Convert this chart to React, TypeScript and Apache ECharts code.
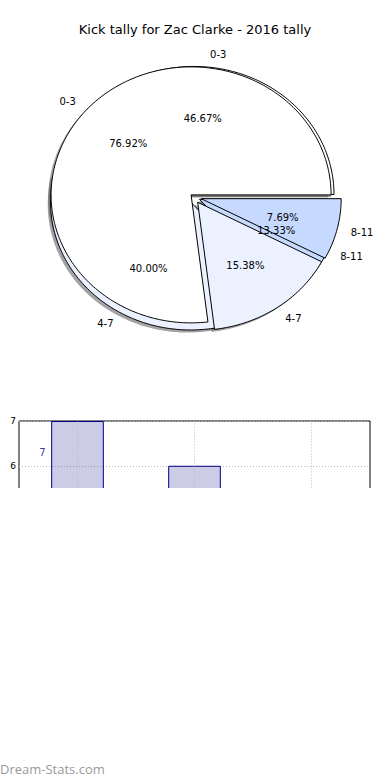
import React, { useEffect, useRef } from "react";
import * as echarts from "echarts";

// ---------- data ----------
const categories = ["0-3", "4-7", "8-11"];
const kicks2016 = [7, 6, 2]; // first pie (46.67 / 40.00 / 13.33 %) and bars
const kicksOther = [10, 2, 1]; // second pie (76.92 / 15.38 / 7.69 %)
const titleText = "Kick tally for Zac Clarke - 2016 tally";
const watermark = "Dream-Stats.com";

// ---------- style / layout ----------
const pieValues = [kicks2016, kicksOther];
const pieExplode = [
  [0.02, 0.045, 0.045],
  [0.025, 0.05, 0.055],
];
const sliceColors = ["#ffffff", "#ebf1ff", "#c6d9ff"];
const FONT = "DejaVu Sans";
const barLabelFrac = 0.9;

function shade(hex: string) {
  const r = parseInt(hex.slice(1, 3), 16);
  const g = parseInt(hex.slice(3, 5), 16);
  const b = parseInt(hex.slice(5, 7), 16);
  return `rgba(${Math.round(r * 0.3)},${Math.round(g * 0.3)},${Math.round(b * 0.3)},0.5)`;
}

function sliceGeom(p: number, s: number) {
  const vals = pieValues[p];
  const total = vals.reduce((a, b) => a + b, 0);
  let start = 0;
  for (let i = 0; i < s; i++) start += vals[i];
  const a0 = (start / total) * 2 * Math.PI;
  const a1 = ((start + vals[s]) / total) * 2 * Math.PI;
  const mid = (a0 + a1) / 2;
  const e = pieExplode[p][s];
  const cx = e * Math.cos(mid);
  const cy = e * Math.sin(mid);
  return { a0, a1, mid, cx, cy, pct: (vals[s] / total) * 100 };
}

function wedgePoints(api: any, p: number, s: number, dx: number, dy: number) {
  const g = sliceGeom(p, s);
  const cx = g.cx + dx;
  const cy = g.cy + dy;
  const pts: number[][] = [api.coord([cx, cy])];
  const n = Math.max(8, Math.ceil((g.a1 - g.a0) / (Math.PI / 180)));
  for (let k = 0; k <= n; k++) {
    const t = g.a0 + ((g.a1 - g.a0) * k) / n;
    pts.push(api.coord([cx + Math.cos(t), cy + Math.sin(t)]));
  }
  return pts;
}

const allSlices: number[][] = [];
pieValues.forEach((vals, p) => vals.forEach((_, s) => allSlices.push([p, s])));

function PieChart() {
  const ref = useRef<HTMLDivElement>(null);
  useEffect(() => {
    const chart = echarts.init(ref.current!, null, { renderer: "svg" });
    chart.setOption({
      animation: false,
      backgroundColor: "#ffffff",
      title: {
        text: titleText,
        left: "center",
        top: 18,
        textStyle: { fontFamily: FONT, fontSize: 13, fontWeight: "normal", color: "#000" },
      },
      grid: { left: 11.7, top: 30.6, width: 364, height: 332.8 },
      xAxis: { type: "value", min: -1.3, max: 1.3, show: false },
      yAxis: { type: "value", min: -1.3, max: 1.3, show: false },
      graphic: [
        {
          type: "text",
          left: 0,
          top: 762,
          style: { text: watermark, fill: "#9a9a9a", font: '13px "Open Sans"' },
        },
      ],
      series: [
        {
          type: "custom",
          z: 1,
          silent: true,
          data: allSlices,
          renderItem: (params: any, api: any) => {
            const p = api.value(0);
            const s = api.value(1);
            return {
              type: "polygon",
              shape: { points: wedgePoints(api, p, s, -0.02, -0.02) },
              style: { fill: shade(sliceColors[s]), stroke: "none" },
            };
          },
        },
        ...[0, 1].map((p) => ({
          type: "custom",
          z: 2 + p,
          silent: true,
          data: categories.map((_, s) => [p, s]),
          renderItem: (params: any, api: any) => {
            const pp = api.value(0);
            const s = api.value(1);
            return {
              type: "polygon",
              shape: { points: wedgePoints(api, pp, s, 0, 0) },
              style: { fill: sliceColors[s], stroke: "#000", lineWidth: 1, lineJoin: "miter" },
            };
          },
        })),
        {
          type: "custom",
          z: 5,
          silent: true,
          data: allSlices,
          renderItem: (params: any, api: any) => {
            const p = api.value(0);
            const s = api.value(1);
            const g = sliceGeom(p, s);
            const lx = g.cx + 1.1 * Math.cos(g.mid);
            const ly = g.cy + 1.1 * Math.sin(g.mid);
            const lp = api.coord([lx, ly]);
            const pp = api.coord([g.cx + 0.6 * Math.cos(g.mid), g.cy + 0.6 * Math.sin(g.mid)]);
            return {
              type: "group",
              children: [
                {
                  type: "text",
                  x: lp[0],
                  y: lp[1],
                  style: {
                    text: categories[s],
                    fill: "#000",
                    fontFamily: FONT,
                    fontSize: 10,
                    align: lx > 0 ? "left" : "right",
                    verticalAlign: "middle",
                  },
                },
                {
                  type: "text",
                  x: pp[0],
                  y: pp[1],
                  style: {
                    text: g.pct.toFixed(2) + "%",
                    fill: "#000",
                    fontFamily: FONT,
                    fontSize: 10,
                    align: "center",
                    verticalAlign: "middle",
                  },
                },
              ],
            };
          },
        },
      ],
    });
    return () => chart.dispose();
  }, []);
  return <div ref={ref} style={{ position: "absolute", left: 0, top: 0, width: 390, height: 780 }} />;
}

function BarChart() {
  const ref = useRef<HTMLDivElement>(null);
  useEffect(() => {
    const chart = echarts.init(ref.current!, null, { renderer: "svg" });
    const gridLine = { type: [1, 2], color: "#bdbdbd", width: 1 };
    chart.setOption({
      animation: false,
      grid: { show: true, left: 19, top: 421, width: 351, height: 69.4, borderColor: "#000", borderWidth: 1 },
      xAxis: {
        type: "category",
        data: categories,
        axisLine: { show: false },
        axisTick: { show: false },
        axisLabel: { show: false },
        splitLine: { show: false },
      },
      yAxis: {
        type: "value",
        min: 5.45,
        max: 7,
        splitNumber: 2,
        axisLine: { show: false },
        axisTick: { show: false },
        axisLabel: { fontFamily: FONT, fontSize: 9, color: "#000", margin: 3, showMinLabel: false },
        splitLine: { show: true, lineStyle: gridLine },
      },
      series: [
        {
          type: "bar",
          data: kicks2016,
          barWidth: "45%",
          itemStyle: { color: "rgba(0,0,128,0.2)", borderColor: "#000080", borderWidth: 1 },
          markLine: {
            silent: true,
            symbol: ["none", "none"],
            label: { show: false },
            lineStyle: gridLine,
            data: categories.map((c) => ({ xAxis: c })),
          },
        },
        {
          type: "scatter",
          clip: true,
          symbolSize: 1,
          itemStyle: { color: "rgba(0,0,0,0)" },
          data: kicks2016.map((v, i) => [i, v * barLabelFrac, v]),
          label: {
            show: true,
            position: "inside",
            offset: [-35, 0],
            formatter: (p: any) => String(p.data[2]),
            color: "#000080",
            fontFamily: FONT,
            fontSize: 10,
          },
        },
      ],
    });
    return () => chart.dispose();
  }, []);
  return (
    <div style={{ position: "absolute", left: 0, top: 0, width: 390, height: 488, overflow: "hidden" }}>
      <div ref={ref} style={{ width: 390, height: 500 }} />
    </div>
  );
}

export default function App() {
  return (
    <div style={{ position: "absolute", left: 0, top: 0, width: 390, height: 780 }}>
      <PieChart />
      <BarChart />
    </div>
  );
}
